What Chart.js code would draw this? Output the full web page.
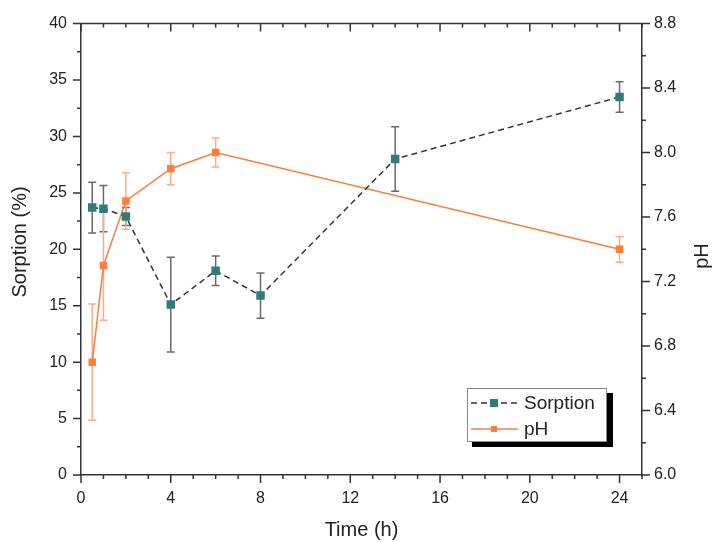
<!DOCTYPE html>
<html>
<head>
<meta charset="utf-8">
<script src="https://cdn.jsdelivr.net/npm/chart.js@4/dist/chart.umd.min.js"></script>
<style>
  body { margin: 0; background: #fff; }
  #wrap { width: 712px; height: 542px; position: relative; }
</style>
</head>
<body>
<div id="wrap"><canvas id="chart"></canvas></div>
<script>
const sorptionTime = [0.5, 1, 2, 4, 6, 8, 14, 24];
const sorption = [23.7, 23.6, 22.9, 15.1, 18.1, 15.9, 28.0, 33.5];
const sorptionErr = [2.25, 2.05, 0.8, 4.2, 1.3, 2.0, 2.85, 1.35];

const phTime = [0.5, 1, 2, 4, 6, 24];
const ph = [6.7, 7.3, 7.7, 7.9, 8.0, 7.4];
const phErr = [0.36, 0.34, 0.175, 0.1, 0.09, 0.08];

const xTicks = [0, 4, 8, 12, 16, 20, 24];
const xMinor = [1, 2, 3, 5, 6, 7, 9, 10, 11, 13, 14, 15, 17, 18, 19, 21, 22, 23, 25];
const yTicks = [0, 5, 10, 15, 20, 25, 30, 35, 40];
const yMinor = [2.5, 7.5, 12.5, 17.5, 22.5, 27.5, 32.5, 37.5];
const phTicks = [6.0, 6.4, 6.8, 7.2, 7.6, 8.0, 8.4, 8.8];
const phMinor = [6.2, 6.6, 7.0, 7.4, 7.8, 8.2, 8.6];

const font = '"Liberation Sans", Arial, sans-serif';
const axisColor = '#333';
const teal = '#2f7d7a';
const orange = '#ff7d3b';

const errorBars = {
  id: 'errorBars',
  beforeDatasetsDraw(chart) {
    const ctx = chart.ctx;
    chart.data.datasets.forEach((ds, i) => {
      const meta = chart.getDatasetMeta(i);
      const xs = chart.scales[meta.xAxisID];
      const ys = chart.scales[meta.yAxisID];
      ctx.save();
      ctx.strokeStyle = ds.errColor;
      ctx.lineWidth = 1.5;
      ds.data.forEach((p, j) => {
        const e = ds.err[j];
        const x = xs.getPixelForValue(p.x);
        const top = ys.getPixelForValue(p.y + e);
        const bot = ys.getPixelForValue(p.y - e);
        ctx.beginPath();
        ctx.moveTo(x, top); ctx.lineTo(x, bot);
        ctx.moveTo(x - 4, top); ctx.lineTo(x + 4, top);
        ctx.moveTo(x - 4, bot); ctx.lineTo(x + 4, bot);
        ctx.stroke();
      });
      ctx.restore();
    });
  }
};

const decorations = {
  id: 'decorations',
  afterDraw(chart) {
    const ctx = chart.ctx;
    const a = chart.chartArea;
    const sx = chart.scales.x, sy = chart.scales.y, sp = chart.scales.y1;
    ctx.save();
    ctx.strokeStyle = axisColor;
    ctx.lineWidth = 1.5;
    ctx.beginPath();
    // top frame line
    ctx.moveTo(a.left, a.top); ctx.lineTo(a.right, a.top);
    // x ticks: bottom outward, top inward
    const xt = (v, len) => {
      const x = sx.getPixelForValue(v);
      ctx.moveTo(x, a.bottom); ctx.lineTo(x, a.bottom + len);
      ctx.moveTo(x, a.top); ctx.lineTo(x, a.top + len);
    };
    xTicks.forEach(v => xt(v, 8));
    xMinor.forEach(v => xt(v, 4));
    const yt = (v, len) => {
      const y = sy.getPixelForValue(v);
      ctx.moveTo(a.left, y); ctx.lineTo(a.left - len, y);
    };
    yTicks.forEach(v => yt(v, 8));
    yMinor.forEach(v => yt(v, 4));
    const pt = (v, len) => {
      const y = sp.getPixelForValue(v);
      ctx.moveTo(a.right, y); ctx.lineTo(a.right + len, y);
    };
    phTicks.forEach(v => pt(v, 8));
    phMinor.forEach(v => pt(v, 4));
    ctx.stroke();

    // axis titles
    ctx.fillStyle = '#222';
    ctx.font = '20px ' + font;
    ctx.textAlign = 'center';
    ctx.textBaseline = 'middle';
    ctx.fillText('Time (h)', (a.left + a.right) / 2, 530);
    ctx.save();
    ctx.translate(20, 242);
    ctx.rotate(-Math.PI / 2);
    ctx.fillText('Sorption (%)', 0, 0);
    ctx.restore();
    ctx.save();
    ctx.translate(702, 256);
    ctx.rotate(-Math.PI / 2);
    ctx.fillText('pH', 0, 0);
    ctx.restore();

    // legend with drop shadow
    const lx = 467, ly = 388, lw = 139, lh = 53;
    ctx.fillStyle = '#000';
    ctx.fillRect(lx + 5, ly + 5, lw + 2, lh + 1);
    ctx.fillStyle = '#fff';
    ctx.fillRect(lx, ly, lw, lh);
    ctx.strokeStyle = '#888';
    ctx.lineWidth = 1;
    ctx.strokeRect(lx + 0.5, ly + 0.5, lw, lh);
    chart.data.datasets.forEach((ds, i) => {
      const y = ly + 15 + i * 26;
      ctx.strokeStyle = ds.borderColor;
      ctx.lineWidth = 1.5;
      ctx.setLineDash(ds.borderDash || []);
      ctx.beginPath();
      ctx.moveTo(lx + 4, y); ctx.lineTo(lx + 51, y);
      ctx.stroke();
      ctx.setLineDash([]);
      const s = i === 0 ? 8 : 6;
      ctx.fillStyle = ds.pointBackgroundColor;
      ctx.fillRect(lx + 27 - s / 2, y - s / 2, s, s);
      ctx.fillStyle = '#222';
      ctx.font = '19px ' + font;
      ctx.textAlign = 'left';
      ctx.fillText(ds.label, lx + 57, y + 1);
    });
    ctx.restore();
  }
};

const ctx = document.getElementById('chart').getContext('2d');
new Chart(ctx, {
  type: 'line',
  data: {
    datasets: [{
      label: 'Sorption',
      data: sorptionTime.map((t, i) => ({ x: t, y: sorption[i] })),
      err: sorptionErr,
      errColor: '#6a6a6a',
      yAxisID: 'y',
      borderColor: '#333',
      borderWidth: 1.5,
      borderDash: [6, 4],
      pointStyle: 'rect',
      pointRadius: 6,
      pointBackgroundColor: teal,
      pointBorderColor: teal,
      pointBorderWidth: 0,
      tension: 0
    }, {
      label: 'pH',
      data: phTime.map((t, i) => ({ x: t, y: ph[i] })),
      err: phErr,
      errColor: '#ffab85',
      yAxisID: 'y1',
      borderColor: orange,
      borderWidth: 1.5,
      pointStyle: 'rect',
      pointRadius: 5.3,
      pointBackgroundColor: orange,
      pointBorderColor: orange,
      pointBorderWidth: 0,
      tension: 0
    }]
  },
  options: {
    responsive: true,
    maintainAspectRatio: false,
    animation: false,
    layout: { padding: { top: 22, left: 0, right: 0, bottom: 0 } },
    plugins: {
      legend: { display: false },
      tooltip: { enabled: false }
    },
    scales: {
      x: {
        type: 'linear',
        min: 0,
        max: 25,
        afterBuildTicks: s => { s.ticks = xTicks.map(v => ({ value: v })); },
        afterFit: s => { s.height = 67; },
        grid: { drawOnChartArea: false, drawTicks: false },
        border: { display: true, color: axisColor, width: 1.5 },
        ticks: { color: '#222', font: { family: font, size: 16 }, padding: 14, maxRotation: 0 }
      },
      y: {
        position: 'left',
        min: 0,
        max: 40,
        afterBuildTicks: s => { s.ticks = yTicks.map(v => ({ value: v })); },
        afterFit: s => { s.width = 81; },
        grid: { drawOnChartArea: false, drawTicks: false },
        border: { display: true, color: axisColor, width: 1.5 },
        ticks: { color: '#222', font: { family: font, size: 16 }, padding: 14 }
      },
      y1: {
        position: 'right',
        min: 6.0,
        max: 8.8,
        afterBuildTicks: s => { s.ticks = phTicks.map(v => ({ value: v })); },
        afterFit: s => { s.width = 70; },
        grid: { drawOnChartArea: false, drawTicks: false },
        border: { display: true, color: axisColor, width: 1.5 },
        ticks: { color: '#222', font: { family: font, size: 16 }, padding: 12, callback: v => v.toFixed(1) }
      }
    }
  },
  plugins: [errorBars, decorations]
});
</script>
</body>
</html>
